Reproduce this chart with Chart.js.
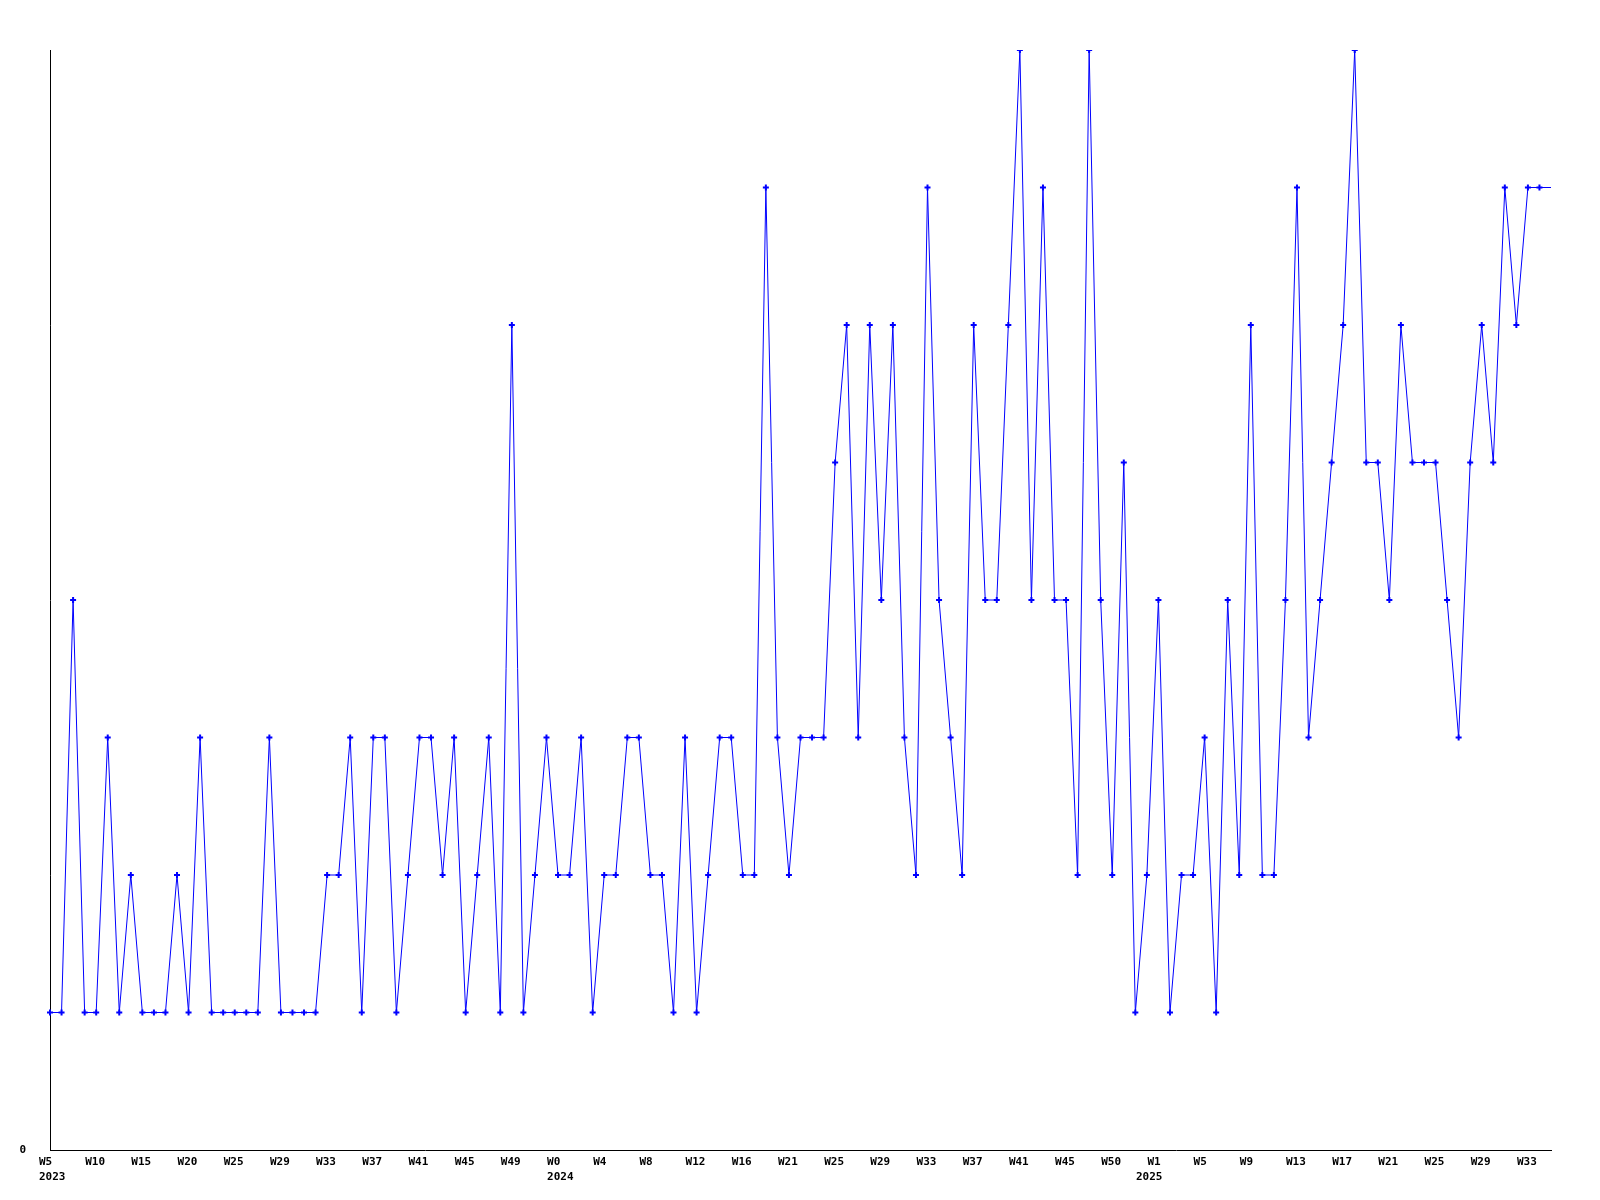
<!DOCTYPE html>
<html>
<head>
<meta charset="utf-8">
<script src="https://cdn.jsdelivr.net/npm/chart.js@4/dist/chart.umd.min.js"></script>
<style>
  html, body { margin: 0; padding: 0; background: #fff; }
  #wrap { width: 1600px; height: 1200px; }
</style>
</head>
<body>
<div id="wrap"><canvas id="chart" width="1600" height="1200"></canvas></div>
<script>
// weekly values, 2023 W5 .. 2025 W35
const values = [
  1, 1, 4, 1, 1, 3, 1, 2, 1, 1,
  1, 2, 1, 3, 1, 1, 1, 1, 1, 3,
  1, 1, 1, 1, 2, 2, 3, 1, 3, 3,
  1, 2, 3, 3, 2, 3, 1, 2, 3, 1,
  6, 1, 2, 3, 2, 2, 3, 1, 2, 2,
  3, 3, 2, 2, 1, 3, 1, 2, 3, 3,
  2, 2, 7, 3, 2, 3, 3, 3, 5, 6,
  3, 6, 4, 6, 3, 2, 7, 4, 3, 2,
  6, 4, 4, 6, 8, 4, 7, 4, 4, 2,
  8, 4, 2, 5, 1, 2, 4, 1, 2, 2,
  3, 1, 4, 2, 6, 2, 2, 4, 7, 3,
  4, 5, 6, 8, 5, 5, 4, 6, 5, 5,
  5, 4, 3, 5, 6, 5, 7, 6, 7, 7,
  7
];

// one week label shown every 4th point
const weekTicks = [
  'W5', 'W10', 'W15', 'W20', 'W25', 'W29', 'W33', 'W37', 'W41', 'W45', 'W49',
  'W0', 'W4', 'W8', 'W12', 'W16', 'W21', 'W25', 'W29', 'W33', 'W37', 'W41', 'W45', 'W50',
  'W1', 'W5', 'W9', 'W13', 'W17', 'W21', 'W25', 'W29', 'W33'
];
const yearTicks = ['2023', '2024', '2025'];
const yearStart = [0, 44, 95];

const weeks = values.map((v, i) => (i % 4 === 0 ? weekTicks[i / 4] : ''));

const tickFont = { family: 'DejaVu Sans Mono', size: 11, weight: 'bold', lineHeight: 1.36 };

new Chart(document.getElementById('chart'), {
  type: 'line',
  data: {
    labels: weeks,
    datasets: [{
      data: values,
      borderColor: '#0000ff',
      backgroundColor: '#0000ff',
      borderWidth: 1,
      tension: 0,
      pointStyle: 'cross',
      pointRadius: ctx => (ctx.dataIndex === values.length - 1 ? 0 : 3),
      pointBorderWidth: 2,
      pointBorderColor: '#0000ff'
    }]
  },
  options: {
    responsive: false,
    animation: false,
    layout: { padding: { top: 50, right: 49, left: 0, bottom: 0 } },
    plugins: {
      legend: { display: false },
      tooltip: { enabled: false }
    },
    scales: {
      x: {
        offset: false,
        grid: { display: false, drawTicks: false },
        border: { display: true, color: '#000', width: 1 },
        afterFit: s => { s.height = 50; },
        ticks: {
          autoSkip: false,
          maxRotation: 0,
          minRotation: 0,
          align: 'start',
          labelOffset: -11,
          padding: 5,
          color: '#000',
          font: tickFont,
          callback: (val, i) => {
            const w = weeks[i];
            const y = yearStart.indexOf(i);
            if (y >= 0) return [w, yearTicks[y]];
            return w;
          }
        }
      },
      y: {
        min: 0,
        max: 8,
        grid: { display: false, drawTicks: false },
        border: { display: true, color: '#000', width: 1 },
        afterFit: s => { s.width = 50; },
        ticks: {
          stepSize: 1,
          padding: 24,
          color: '#000',
          font: tickFont,
          callback: v => (v === 0 ? '0' : '')
        }
      }
    }
  }
});
</script>
</body>
</html>
